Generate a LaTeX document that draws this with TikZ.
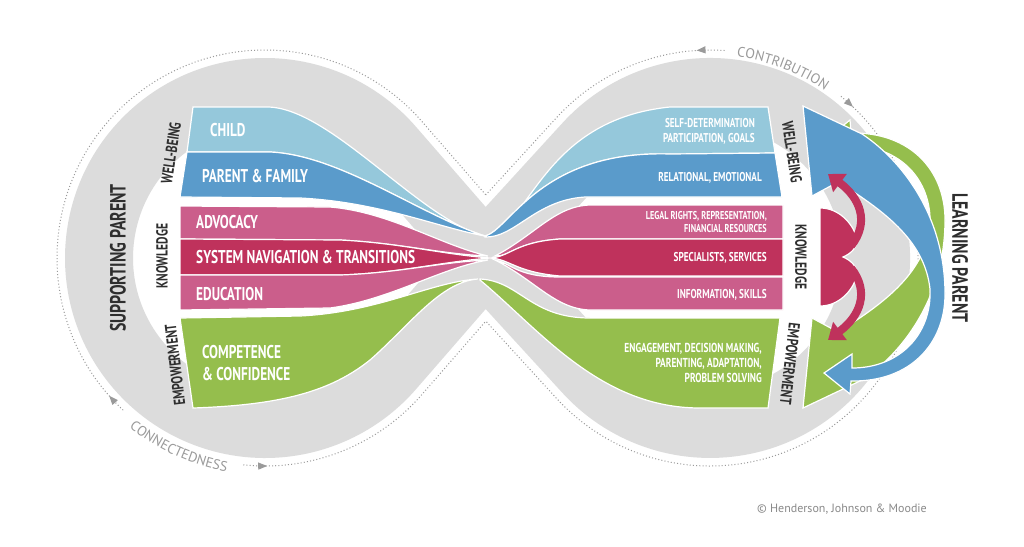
\documentclass[tikz,border=0pt]{standalone}
\usepackage{fontspec}
\setmainfont{PT Sans}
\newfontfamily\condfont[FakeStretch=0.72]{PT Sans}
\usetikzlibrary{arrows.meta,decorations.markings,decorations.text}

\definecolor{bandgray}{HTML}{DCDCDC}
\definecolor{dotgray}{HTML}{9A9A9A}
\definecolor{copygray}{HTML}{8A8A8A}
\definecolor{childblue}{HTML}{95C8DB}
\definecolor{familyblue}{HTML}{5A9BCB}
\definecolor{knowpink}{HTML}{CB5E8B}
\definecolor{knowred}{HTML}{BF325C}
\definecolor{empgreen}{HTML}{95BE4D}
\definecolor{labeldark}{HTML}{2E2E2E}

\tikzset{
  flow/.style={draw=white, line width=1.2pt},
  dotline/.style={dotgray, line width=1pt, dash pattern=on 1pt off 2.2pt},
  barlabel/.style={text=white, font=\condfont\bfseries\fontsize{18.5}{22}\selectfont, anchor=west, align=left, inner sep=0pt},
  detaillabel/.style={text=white, font=\condfont\bfseries\fontsize{12.8}{15}\selectfont, anchor=east, align=right, inner sep=0pt},
  sidelabel/.style={text=labeldark, font=\condfont\bfseries\fontsize{16}{18}\selectfont, inner sep=0pt},
  biglabel/.style={text=labeldark, font=\condfont\bfseries\fontsize{22}{24}\selectfont, inner sep=0pt},
}

\begin{document}
\begin{tikzpicture}[x=1pt,y=1pt]
  \useasboundingbox (0,0) rectangle (1024,-546);
  \fill[white] (0,0) rectangle (1024,-546);
  \coordinate (lobeL) at (265,-258);
  \coordinate (lobeR) at (710,-258);
  \coordinate (cross) at (485,-258);
  \coordinate (vtop) at (485.8,-194.9);
  \coordinate (vbot) at (485.8,-321.1);

  % grey figure eight
  \draw[bandgray, line width=68pt, line join=round] (cross) -- (390.3,-149.1)
    arc[start angle=41, end angle=319, radius=166] -- (cross) -- (587.6,-145.9)
    arc[start angle=137.54, end angle=-137.54, radius=166] -- cycle;

  % dotted rim
  \draw[dotline, postaction={decorate}, decoration={markings, mark=at position 20pt with {\arrow{Triangle[length=9pt,width=7pt]}}}]
    ([shift={(227:208)}]lobeL) arc[start angle=227, end angle=41, radius=208] -- (vtop);
  \draw[dotline, postaction={decorate}, decoration={markings, mark=at position 24pt with {\arrow{Triangle[length=9pt,width=7pt]}}}]
    ([shift={(264:208)}]lobeL) arc[start angle=264, end angle=319, radius=208] -- (vbot);
  \draw[dotline, postaction={decorate}, decoration={markings, mark=at position 28pt with {\arrow{Triangle[length=9pt,width=7pt]}}}]
    ([shift={(86:208)}]lobeR) arc[start angle=86, end angle=137.54, radius=208] -- (vtop);
  \draw[dotline, postaction={decorate}, decoration={markings, mark=at position 16pt with {\arrow{Triangle[length=9pt,width=7pt]}}}]
    ([shift={(51:208)}]lobeR) arc[start angle=51, end angle=-137.54, radius=208] -- (vbot);
  \path[decorate, decoration={text along path, text align=center, text color=dotgray,
      text={|\fontsize{14}{14}\selectfont|CONNECTEDNESS}}]
    ([shift={(215:217)}]lobeL) arc[start angle=215, end angle=276, radius=217];
  \path[decorate, decoration={text along path, text align=center, text color=dotgray,
      text={|\fontsize{14}{14}\selectfont|CONTRIBUTION}}]
    ([shift={(100:203)}]lobeR) arc[start angle=100, end angle=38, radius=203];

  % supporting side
  \draw[flow, fill=childblue] (193,-107) -- (267,-107) .. controls (330,-107) and (420,-220) .. (485,-236)
    .. controls (420,-215) and (340,-155) .. (270,-152) -- (187,-152) -- cycle;
  \draw[flow, fill=familyblue] (187,-152) -- (270,-152) .. controls (340,-155) and (420,-215) .. (485,-236)
    .. controls (440,-228) and (380,-202) .. (300,-198) -- (180,-197) -- cycle;
  \draw[flow, fill=knowpink] (180,-206) -- (330,-207) .. controls (390,-212) and (440,-245) .. (488,-256)
    .. controls (440,-254) and (400,-243) .. (340,-240) -- (180,-239) -- cycle;
  \draw[flow, fill=knowred] (180,-239) -- (340,-240) .. controls (400,-243) and (440,-254) .. (490,-258)
    .. controls (440,-262) and (400,-273) .. (340,-275) -- (180,-275) -- cycle;
  \draw[flow, fill=knowpink] (180,-275) -- (340,-275) .. controls (400,-273) and (440,-262) .. (488,-260)
    .. controls (440,-268) and (390,-300) .. (330,-308) -- (180,-310) -- cycle;
  \draw[flow, fill=empgreen] (180,-318) -- (300,-316) .. controls (380,-312) and (430,-282) .. (478,-279)
    .. controls (440,-282) and (410,-325) .. (370,-360) .. controls (330,-392) and (280,-405) .. (193,-408) -- cycle;

  % learning side
  \draw[flow, fill=childblue] (485,-236) .. controls (530,-230) and (540,-120) .. (670,-107) -- (768,-107)
    -- (775,-153) -- (670,-154) .. controls (540,-150) and (510,-230) .. (485,-236) -- cycle;
  \draw[flow, fill=familyblue] (485,-236) .. controls (510,-230) and (540,-150) .. (670,-154) -- (775,-153)
    -- (782,-197) -- (585,-197) .. controls (535,-200) and (515,-238) .. (485,-237) -- cycle;
  \draw[flow, fill=knowpink] (495,-256) .. controls (535,-235) and (555,-206) .. (590,-205) -- (783,-205)
    -- (783,-239) -- (560,-239) .. controls (515,-242) and (510,-257) .. (495,-256) -- cycle;
  \draw[flow, fill=knowred] (490,-258) .. controls (510,-257) and (515,-242) .. (560,-239) -- (783,-239)
    -- (783,-276) -- (560,-276) .. controls (515,-272) and (510,-259) .. (490,-258) -- cycle;
  \draw[flow, fill=knowpink] (495,-260) .. controls (510,-262) and (515,-277) .. (560,-277) -- (783,-277)
    -- (783,-310) -- (590,-310) .. controls (555,-309) and (535,-280) .. (495,-260) -- cycle;
  \draw[flow, fill=empgreen] (480,-279) .. controls (520,-281) and (530,-318) .. (590,-318) -- (780,-318)
    -- (768,-408) -- (700,-408) .. controls (600,-408) and (540,-330) .. (480,-280) -- cycle;

  % learning arrows
  \draw[flow, fill=empgreen] (803,-408) -- (812,-318) -- (838,-332) .. controls (890,-300) and (925,-270) .. (930,-225)
    .. controls (932,-180) and (900,-146) .. (852,-146) -- (852,-160) -- (824,-141) -- (850,-120) -- (851,-133)
    .. controls (910,-132) and (945,-170) .. (945,-220) .. controls (945,-300) and (900,-355) .. (862,-380) -- cycle;
  \draw[flow, fill=familyblue] (803,-106) -- (812,-196) -- (838,-182) .. controls (890,-214) and (925,-244) .. (930,-289)
    .. controls (932,-334) and (900,-368) .. (852,-368) -- (852,-354) -- (824,-373) -- (850,-394) -- (851,-381)
    .. controls (910,-382) and (945,-344) .. (945,-294) .. controls (945,-214) and (900,-159) .. (862,-134) -- cycle;
  \draw[flow, fill=knowred] (820,-208) .. controls (838,-208) and (852,-222) .. (857,-238)
    .. controls (858,-248) and (850,-254) .. (843,-257) .. controls (850,-260) and (858,-266) .. (857,-276)
    .. controls (852,-292) and (838,-306) .. (820,-306) -- cycle;
  \draw[knowred, line width=8pt, -{Triangle[width=22pt,length=15pt]}] (851,-246) .. controls (870,-222) and (860,-198) .. (828,-174);
  \draw[knowred, line width=8pt, -{Triangle[width=22pt,length=15pt]}] (851,-268) .. controls (870,-292) and (860,-316) .. (828,-340);

  % bar texts
  \node[barlabel] (child) at (210,-130) {CHILD};
  \node[barlabel] (family) at (202,-176) {PARENT \& FAMILY};
  \node[barlabel] (advocacy) at (196,-222) {ADVOCACY};
  \node[barlabel] (sysnav) at (196,-257) {SYSTEM NAVIGATION \& TRANSITIONS};
  \node[barlabel] (education) at (196,-294) {EDUCATION};
  \node[barlabel] (competence) at (202,-363) {COMPETENCE\\ \& CONFIDENCE};

  \node[detaillabel] (selfdet) at (755,-131) {SELF-DETERMINATION\\PARTICIPATION, GOALS};
  \node[detaillabel] (relational) at (762,-178) {RELATIONAL, EMOTIONAL};
  \node[detaillabel, font=\condfont\bfseries\fontsize{11.4}{13}\selectfont] (legal) at (767,-222) {LEGAL RIGHTS, REPRESENTATION,\\FINANCIAL RESOURCES};
  \node[detaillabel] (specialists) at (767,-258) {SPECIALISTS, SERVICES};
  \node[detaillabel] (information) at (767,-295) {INFORMATION, SKILLS};
  \node[detaillabel, font=\condfont\bfseries\fontsize{13}{15}\selectfont] (engagement) at (762,-363) {ENGAGEMENT, DECISION MAKING,\\PARENTING, ADAPTATION,\\PROBLEM SOLVING};

  % side texts
  \node[sidelabel, rotate=81.5] (wellL) at (171,-153) {WELL-BEING};
  \node[sidelabel, rotate=90] (knowL) at (162,-256) {KNOWLEDGE};
  \node[sidelabel, rotate=96.7] (empL) at (175,-365) {EMPOWERMENT};
  \node[sidelabel, rotate=-81.4] (wellR) at (792,-152) {WELL-BEING};
  \node[sidelabel, rotate=-90] (knowR) at (801,-257) {KNOWLEDGE};
  \node[sidelabel, rotate=-96.6] (empR) at (790,-364) {EMPOWERMENT};
  \node[biglabel, rotate=90] (supporting) at (118,-258) {SUPPORTING PARENT};
  \node[biglabel, rotate=-90] (learning) at (960,-258) {LEARNING PARENT};

  \node[text=copygray, font=\fontsize{12}{14}\selectfont] (credit) at (842,-509) {\textcopyright\ Henderson, Johnson \& Moodie};
\end{tikzpicture}
\end{document}
